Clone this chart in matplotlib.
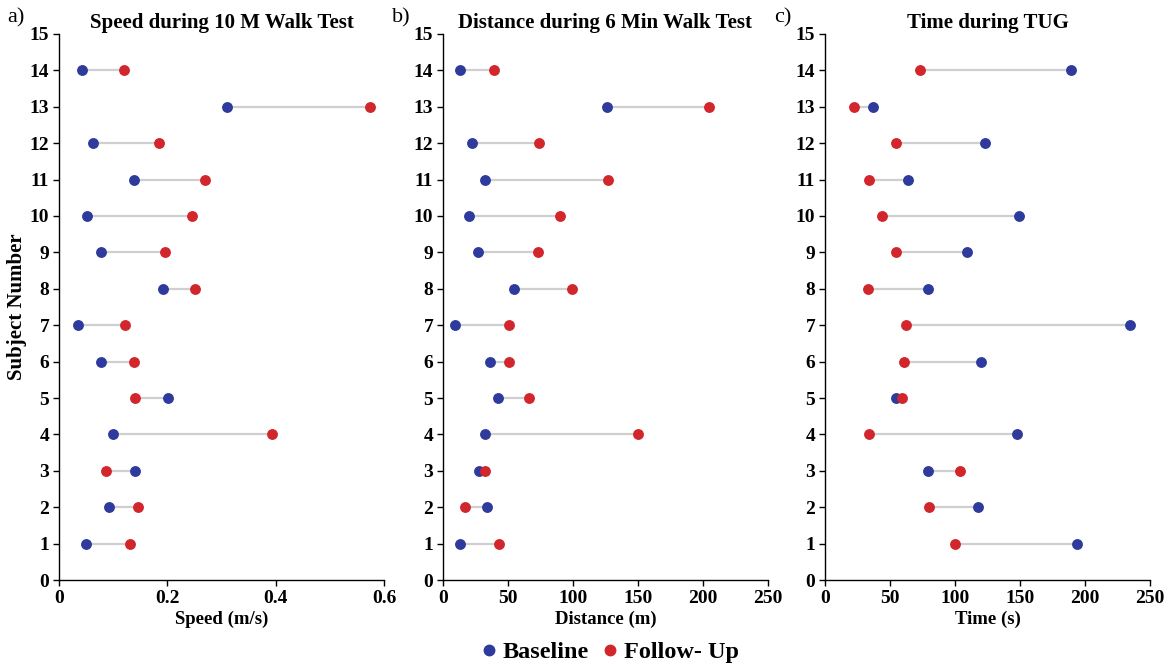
import numpy as np
import matplotlib
matplotlib.use("Agg")
from matplotlib import pyplot as plt
from matplotlib.lines import Line2D

plt.rcParams['font.family'] = ['Liberation Serif', 'DejaVu Serif']

subjects = np.arange(1, 15)

speed_base = [0.05, 0.092, 0.14, 0.10, 0.201, 0.078, 0.035, 0.192, 0.078, 0.052, 0.138, 0.063, 0.31, 0.042]
speed_follow = [0.131, 0.146, 0.087, 0.393, 0.140, 0.138, 0.122, 0.251, 0.196, 0.245, 0.27, 0.185, 0.574, 0.12]

dist_base = [13, 34, 28, 32, 42, 36, 9, 55, 27, 20, 32, 22, 126, 13]
dist_follow = [43, 17, 32, 150, 66, 51, 51, 99, 73, 90, 127, 74, 205, 39]

tug_base = [194, 118, 79, 148, 55, 120, 235, 79, 109, 149, 64, 123, 37, 189]
tug_follow = [100, 80, 104, 34, 59, 61, 62, 33, 55, 44, 34, 55, 22, 73]

panels = [
    ("a)", "Speed during 10 M Walk Test", "Speed (m/s)", speed_base, speed_follow, 0.6, [0, 0.2, 0.4, 0.6]),
    ("b)", "Distance during 6 Min Walk Test", "Distance (m)", dist_base, dist_follow, 250, [0, 50, 100, 150, 200, 250]),
    ("c)", "Time during TUG", "Time (s)", tug_base, tug_follow, 250, [0, 50, 100, 150, 200, 250]),
]

blue = '#2e3a9c'
red = '#d1262b'
gray = '#cfcfcf'

fig = plt.figure(figsize=(11.71, 6.64), dpi=100)
lefts = [0.0504, 0.3783, 0.7045]

for left, (lab, title, xlab, base, follow, xmax, xticks) in zip(lefts, panels):
    ax = fig.add_axes([left, 0.1265, 0.2775, 0.8223])
    ax.hlines(subjects, base, follow, color=gray, lw=1.6, zorder=1)
    ax.plot(base, subjects, 'o', color=blue, ms=6.8, zorder=2)
    ax.plot(follow, subjects, 'o', color=red, ms=6.8, zorder=3)
    ax.set_xlim(0, xmax)
    ax.set_ylim(0, 15)
    ax.set_yticks(range(0, 16))
    ax.set_xticks(xticks)
    ax.set_xticklabels([('%g' % t) for t in xticks])
    for s in ['top', 'right']:
        ax.spines[s].set_visible(False)
    ax.spines['left'].set_linewidth(1.0)
    ax.spines['bottom'].set_linewidth(1.0)
    ax.tick_params(direction='out', length=4, width=1, labelsize=14, pad=3)
    for t in ax.get_xticklabels() + ax.get_yticklabels():
        t.set_fontweight('bold')
    ax.set_title(title, fontsize=15, fontweight='bold', pad=4)
    ax.set_xlabel(xlab, fontsize=13.5, fontweight='bold', labelpad=3)
    ax.text(-0.158, 1.03, lab, transform=ax.transAxes, fontsize=16, va='center', ha='left')
    if lab == "a)":
        ax.set_ylabel("Subject Number", fontsize=15, fontweight='bold', labelpad=2)

handles = [Line2D([], [], ls='none', marker='o', color=blue, ms=7.5, label='Baseline'),
           Line2D([], [], ls='none', marker='o', color=red, ms=7.5, label='Follow- Up')]
fig.legend(handles=handles, loc='center', bbox_to_anchor=(0.519, 0.018), ncol=2, frameon=False,
           prop={'weight': 'bold', 'size': 17.5}, handletextpad=0.05, columnspacing=0.4, handlelength=1.0)

fig.savefig('out.png', dpi=100)
